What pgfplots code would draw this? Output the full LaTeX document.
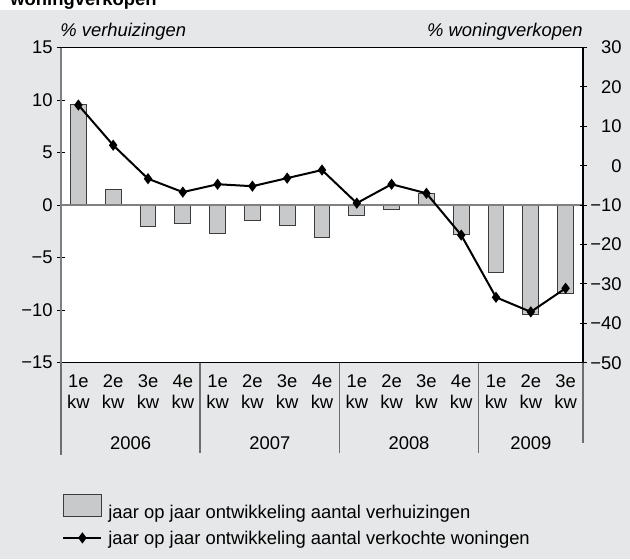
\documentclass[border=0pt]{standalone}
\usepackage{fontspec}
\setmainfont{Liberation Sans}
\usepackage{pgfplots}
\pgfplotsset{compat=1.18}
\definecolor{bg}{HTML}{E6E7E8}
\definecolor{barfill}{HTML}{C8C9CB}
\definecolor{bardraw}{HTML}{3C3C3C}
\definecolor{zerogray}{HTML}{808080}
\definecolor{sepgray}{HTML}{6E6E6E}
\pgfplotsset{
  mylinelegend/.style={legend image code/.code={\draw[mark repeat=2, mark phase=2, ##1] plot coordinates {(0pt,0.4pt) (9.5pt,0.4pt) (19pt,0.4pt)};}},
  mybarlegend/.style={legend image code/.code={\draw[fill=barfill, draw=bardraw, line width=0.5pt] (0pt,-2.1pt) rectangle (19pt,8.9pt);}},
}
\begin{document}
\fontsize{9.2}{10.5}\selectfont
\begin{tikzpicture}
\useasboundingbox (0,0) rectangle (315pt,279.5pt);
\fill[bg] (0,0) rectangle (315pt,274.5pt);
\node[anchor=base west, inner sep=0pt, font=\bfseries] at (5pt,277pt) {woningverkopen};
\node[anchor=base west, inner sep=0pt, font=\itshape] at (30pt,261.5pt) {\% verhuizingen};
\node[anchor=base east, inner sep=0pt, font=\itshape] at (291.5pt,261.5pt) {\% woningverkopen};

\begin{axis}[
  at={(30.5pt,98.15pt)}, anchor=south west,
  width=261pt, height=157.6pt, scale only axis,
  xmin=-0.5, xmax=14.5, ymin=-15, ymax=15,
  axis background/.style={fill=white},
  axis line style={black, line width=0.6pt},
  ytick={-15,-10,...,15},
  yticklabels={−15,−10,−5,0,5,10,15},
  ytick pos=left,
  tick align=center,
  major tick length=3.5pt,
  tick style={black, line width=0.5pt},
  yticklabel style={anchor=east, inner sep=0pt, xshift=-2.25pt},
  xtick={0,...,14},
  xticklabels={{1e\\kw},{2e\\kw},{3e\\kw},{4e\\kw},{1e\\kw},{2e\\kw},{3e\\kw},{4e\\kw},{1e\\kw},{2e\\kw},{3e\\kw},{4e\\kw},{1e\\kw},{2e\\kw},{3e\\kw}},
  xtick style={draw=none},
  xticklabel style={align=center, anchor=north, inner sep=0pt, yshift=-3.9pt},
  clip=false,
]
\addplot[ybar, bar width=0.45, fill=barfill, draw=bardraw, line width=0.5pt]
  coordinates {(0,9.6) (1,1.5) (2,-2.0) (3,-1.75) (4,-2.7) (5,-1.5) (6,-1.9) (7,-3.1)
               (8,-0.95) (9,-0.45) (10,1.1) (11,-2.8) (12,-6.45) (13,-10.4) (14,-8.4)};
\draw[zerogray, line width=0.9pt] (axis cs:-0.5,0) -- (axis cs:14.5,0);
\draw[black!50, line width=0.6pt] (rel axis cs:0,0) -- (rel axis cs:0,1);
\draw[sepgray, line width=0.75pt] (axis cs:-0.5,-15) -- ([yshift=-46pt]axis cs:-0.5,-15);
\draw[sepgray, line width=0.75pt] (axis cs:3.5,-15) -- ([yshift=-45pt]axis cs:3.5,-15);
\draw[sepgray, line width=0.75pt] (axis cs:7.5,-15) -- ([yshift=-45pt]axis cs:7.5,-15);
\draw[sepgray, line width=0.75pt] (axis cs:11.5,-15) -- ([yshift=-45pt]axis cs:11.5,-15);
\draw[sepgray, line width=0.75pt] (axis cs:14.5,-15) -- ([yshift=-40pt]axis cs:14.5,-15);
\node[anchor=base, inner sep=0pt] at ([yshift=-43.15pt]axis cs:1.5,-15) {2006};
\node[anchor=base, inner sep=0pt] at ([yshift=-43.15pt]axis cs:5.5,-15) {2007};
\node[anchor=base, inner sep=0pt] at ([yshift=-43.15pt]axis cs:9.5,-15) {2008};
\node[anchor=base, inner sep=0pt] at ([yshift=-43.15pt]axis cs:13,-15) {2009};
\end{axis}

\begin{axis}[
  at={(30.5pt,98.15pt)}, anchor=south west,
  width=261pt, height=157.6pt, scale only axis,
  xmin=-0.5, xmax=14.5, ymin=-50, ymax=30,
  axis x line=none, axis y line*=right,
  axis line style={black, line width=0.6pt},
  ytick={-50,-40,...,30},
  yticklabels={−50,−40,−30,−20,−10,0,10,20,30},
  tick align=center,
  major tick length=3.5pt,
  tick style={black, line width=0.5pt},
  yticklabel style={anchor=east, inner sep=0pt, xshift=17.75pt},
  clip=false,
  legend style={at={(0,0)}, anchor=north west, xshift=0.5pt, yshift=-65.65pt,
    draw=none, fill=none, inner sep=0pt, row sep=5pt,
    font=\fontsize{9.2}{10.5}\selectfont,
    nodes={inner sep=0pt, text depth=1.35pt},
    /tikz/every odd column/.append style={column sep=3pt}},
  legend cell align=left,
]
\addlegendimage{mybarlegend}
\addlegendentry{jaar op jaar ontwikkeling aantal verhuizingen}
\addplot[black, line width=1pt, mark=diamond*, mark size=2pt, mark options={solid}, mylinelegend]
  coordinates {(0,15.4) (1,5.2) (2,-3.3) (3,-6.7) (4,-4.7) (5,-5.2) (6,-3.15) (7,-1.1)
               (8,-9.5) (9,-4.7) (10,-7.0) (11,-17.6) (12,-33.4) (13,-37.1) (14,-31.1)};
\addlegendentry{jaar op jaar ontwikkeling aantal verkochte woningen}
\end{axis}
\end{tikzpicture}
\end{document}
